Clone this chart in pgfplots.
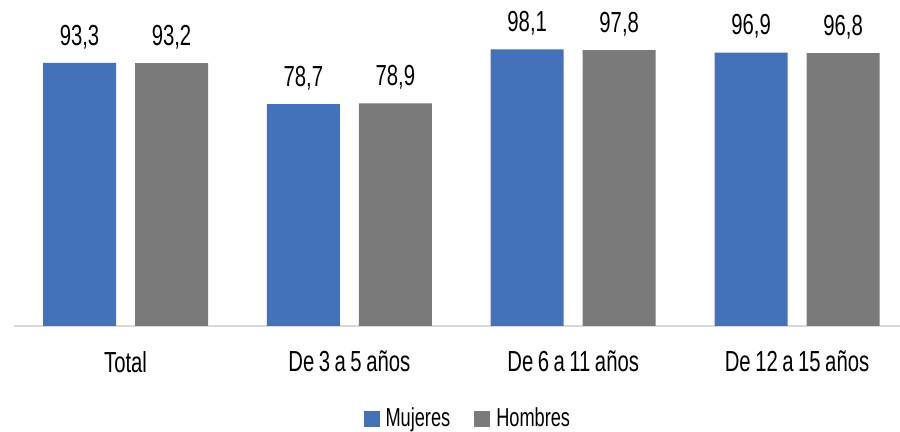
\documentclass[border=0pt]{standalone}
\usepackage{pgfplots}
\pgfplotsset{compat=1.18}
\usepackage{fontspec}
\setmainfont{Liberation Sans}[FakeStretch=0.7, WordSpace=0.8]
\definecolor{cblue}{RGB}{68,114,186}
\definecolor{cgray}{RGB}{122,122,122}
\definecolor{cbase}{RGB}{217,217,217}
\begin{document}
\begin{tikzpicture}
\begin{axis}[
  at={(0,0)}, anchor=south west,
  scale only axis,
  width=443.2pt, height=163pt,
  xmin=-0.5, xmax=3.46,
  ymin=0, ymax=115.6,
  ybar=9.5pt, bar width=36.5pt,
  axis x line*=bottom, axis y line=none,
  x axis line style={draw=cbase, line width=0.9pt, -},
  xtick={0,1,2,3}, xticklabels={Total, De 3 a 5 años, De 6 a 11 años, De 12 a 15 años},
  major tick length=0pt,
  xticklabel style={font=\fontsize{14.5}{16}\selectfont, text=black, yshift=-9pt},
  ytick=\empty,
  nodes near coords,
  every node near coord/.append style={font=\fontsize{14.5}{16}\selectfont, text=black, yshift=3.5pt},
  /pgf/number format/.cd, use comma, fixed, fixed zerofill, precision=1, assume math mode=true,
  /pgfplots/.cd,
  legend style={at={(0.5,0)}, anchor=center, xshift=6pt, yshift=-46.5pt, draw=none, fill=none,
    legend columns=2, font=\fontsize{13}{15}\selectfont,
    /tikz/every even column/.append style={column sep=10pt},
    /tikz/every odd column/.append style={inner xsep=0pt}},
  legend image code/.code={\fill[#1] (0pt,-4pt) rectangle (8pt,4pt);},
]
\addplot[fill=cblue, draw=none] coordinates {(0,93.3) (1,78.7) (2,98.1) (3,96.9)};
\addplot[fill=cgray, draw=none] coordinates {(0,93.2) (1,78.9) (2,97.8) (3,96.8)};
\legend{\hspace{1pt}Mujeres, \hspace{1pt}Hombres}
\end{axis}
\pgfresetboundingbox
\useasboundingbox (-6.8pt,-53pt) rectangle (443.2pt,163pt);
\end{tikzpicture}
\end{document}
